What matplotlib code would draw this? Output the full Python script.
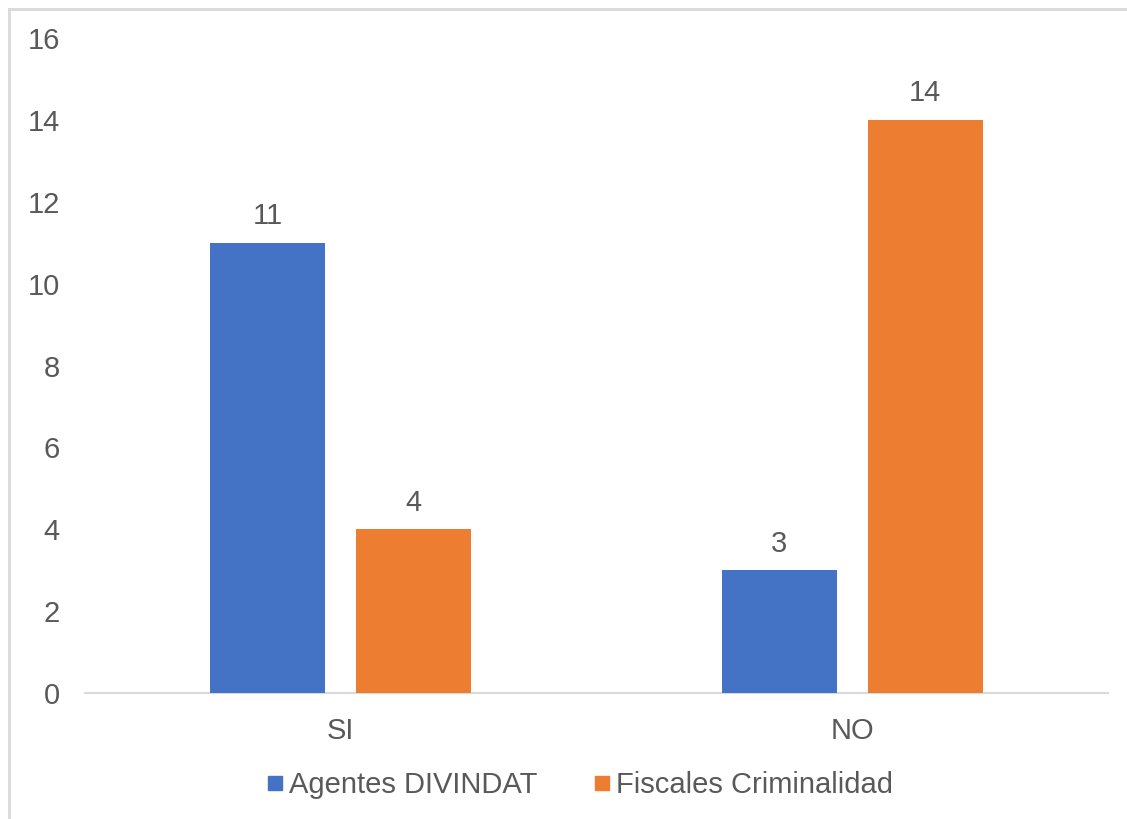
import matplotlib
matplotlib.use("Agg")
import matplotlib.pyplot as plt
from matplotlib.lines import Line2D
import numpy as np

categories = ["SI", "NO"]
series_names = ["Agentes DIVINDAT", "Fiscales Criminalidad"]
agentes = [11, 3]
fiscales = [4, 14]
yticks = [0, 2, 4, 6, 8, 10, 12, 14, 16]

colors = ["#4472C4", "#ED7D31"]
text_color = "#595959"
fs = 21

plt.rcParams["font.family"] = ["Liberation Sans", "DejaVu Sans"]

fig = plt.figure(figsize=(11.27, 8.19), dpi=100)
ax = fig.add_axes([0.0754, 0.1538, 0.9077, 0.7998])

x = np.arange(len(categories))
w = 0.225
off = 0.143
for vals, o, c in [(agentes, -off, colors[0]), (fiscales, off, colors[1])]:
    bars = ax.bar(x + o, vals, width=w, color=c, zorder=3)
    for b, v in zip(bars, vals):
        ax.annotate(str(v), (b.get_x() + b.get_width() / 2, v), xytext=(0, 9),
                    textcoords="offset points", ha="center", va="bottom",
                    fontsize=fs, color=text_color)

ax.set_xlim(-0.5, 1.5)
ax.set_ylim(0, 16)
ax.set_yticks(yticks)
ax.set_xticks(x)
ax.set_xticklabels(categories)
ax.tick_params(axis="both", length=0, labelsize=fs, labelcolor=text_color)
ax.tick_params(axis="y", pad=18)
ax.tick_params(axis="x", pad=17)
for s in ["top", "right", "left"]:
    ax.spines[s].set_visible(False)
ax.spines["bottom"].set_color("#D9D9D9")
ax.spines["bottom"].set_linewidth(1.5)

handles = [Line2D([], [], marker="s", linestyle="none", markersize=10,
                  markerfacecolor=c, markeredgecolor=c) for c in colors]
fig.legend(handles, series_names, loc="center", bbox_to_anchor=(0.513, 0.0415),
           ncol=2, frameon=False, fontsize=fs, labelcolor=text_color,
           handletextpad=0.1, columnspacing=1.8, handlelength=0.8)

# outer chart border (left and top visible)
fig.add_artist(Line2D([9 / 1127, 9 / 1127], [0, 1 - 9 / 819], transform=fig.transFigure,
                      color="#D9D9D9", linewidth=2))
fig.add_artist(Line2D([9 / 1127, 1], [1 - 9 / 819, 1 - 9 / 819], transform=fig.transFigure,
                      color="#D9D9D9", linewidth=2))

fig.savefig("out.png", dpi=100)
